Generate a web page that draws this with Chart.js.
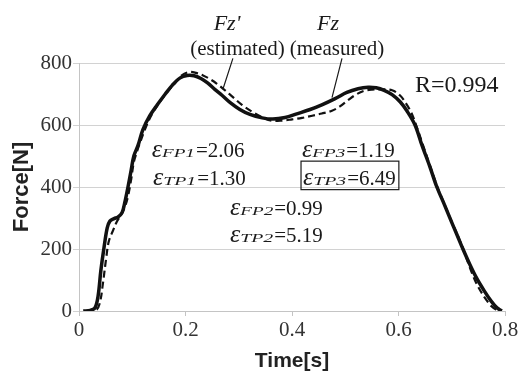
<!DOCTYPE html>
<html>
<head>
<meta charset="utf-8">
<script src="https://cdn.jsdelivr.net/npm/chart.js@4.4.1/dist/chart.umd.min.js"></script>
<style>
    html, body { margin: 0; padding: 0; background: #fff; }
    #wrap { width: 531px; height: 374px; }
</style>
</head>
<body>
<div id="wrap"><canvas id="forceChart" width="531" height="374"></canvas></div>
<script>
// Fz (measured) - solid line
const measuredTime = [0.008, 0.021, 0.030, 0.036, 0.041, 0.047, 0.053, 0.058, 0.066, 0.073,
    0.081, 0.086, 0.092, 0.098, 0.103, 0.111, 0.120, 0.133, 0.147, 0.162,
    0.175, 0.190, 0.203, 0.216, 0.229, 0.242, 0.255, 0.269, 0.284, 0.302,
    0.321, 0.344, 0.364, 0.387, 0.409, 0.434, 0.456, 0.481, 0.503, 0.524,
    0.543, 0.558, 0.573, 0.588, 0.603, 0.616, 0.631, 0.644, 0.659, 0.672,
    0.685, 0.697, 0.710, 0.721, 0.734, 0.747, 0.761, 0.774, 0.785, 0.794];
const measuredForce = [0, 2, 10, 50, 130, 205, 268, 290, 298, 303,
    318, 350, 400, 455, 500, 535, 585, 630, 665, 700,
    728, 752, 760, 759, 750, 735, 715, 695, 672, 650,
    634, 623, 619, 624, 636, 650, 665, 685, 705, 717,
    722, 720, 712, 698, 675, 645, 600, 535, 465, 400,
    348, 298, 245, 200, 150, 105, 65, 32, 10, 0];

// Fz' (estimated) - dashed line
const estimatedTime = [0.013, 0.032, 0.039, 0.045, 0.051, 0.056, 0.064, 0.071, 0.079, 0.086,
    0.092, 0.098, 0.103, 0.109, 0.116, 0.126, 0.137, 0.150, 0.165, 0.180,
    0.193, 0.207, 0.220, 0.233, 0.246, 0.259, 0.274, 0.289, 0.306, 0.325,
    0.344, 0.362, 0.381, 0.400, 0.419, 0.438, 0.456, 0.475, 0.490, 0.505,
    0.520, 0.535, 0.550, 0.569, 0.588, 0.603, 0.614, 0.624, 0.633, 0.646,
    0.659, 0.672, 0.685, 0.697, 0.710, 0.721, 0.734, 0.746, 0.755, 0.764,
    0.774, 0.783, 0.793];
const estimatedForce = [0, 3, 25, 90, 170, 225, 260, 288, 310, 335,
    370, 425, 480, 515, 550, 595, 635, 670, 705, 735,
    760, 771, 768, 760, 748, 733, 712, 690, 665, 643,
    625, 614, 614, 618, 623, 630, 637, 646, 660, 680,
    698, 710, 714, 715, 712, 695, 670, 640, 600, 535,
    470, 405, 350, 300, 248, 203, 140, 90, 62, 38,
    16, 5, 1];

const xTicks = [0, 0.2, 0.4, 0.6, 0.8];
const yTicks = [0, 200, 400, 600, 800];

// error values written in the plot
const errNames  = ['FP1', 'TP1', 'FP3', 'TP3', 'FP2', 'TP2'];
const errValues = ['2.06', '1.30', '1.19', '6.49', '0.99', '5.19'];
const errBoxed  = [false, false, false, true, false, false];
const corrText  = 'R=0.994';

// where the texts sit, in data units (time, force)
const errPos = [[0.1365, 498], [0.139, 406], [0.4188, 498], [0.4207, 406], [0.2836, 310], [0.2836, 223]];

const SERIF = '"Liberation Serif", "Times New Roman", serif';

function drawEps(ctx, x, y, sub, val, boxed) {
    ctx.textAlign = 'left';
    ctx.textBaseline = 'alphabetic';
    ctx.font = 'italic 26px ' + SERIF;
    ctx.fillText('\u03b5', x, y);
    let cx = x + ctx.measureText('\u03b5').width;
    ctx.font = 'italic 13px ' + SERIF;
    const w = ctx.measureText(sub).width;
    const subW = 33;
    ctx.save();
    ctx.translate(cx, y);
    ctx.scale(subW / w, 1);
    ctx.fillText(sub, 0, 0);
    ctx.restore();
    cx += subW + 1;
    ctx.font = '21px ' + SERIF;
    ctx.fillText('=' + val, cx, y);
    cx += ctx.measureText('=' + val).width;
    if (boxed) {
        ctx.lineWidth = 1.2;
        ctx.strokeRect(x - 2, y - 24, cx - x + 5, 28.5);
    }
}

const notesPlugin = {
    id: 'notes',
    afterDatasetsDraw(chart) {
        const ctx = chart.ctx;
        const xs = chart.scales.x, ys = chart.scales.y;
        const px = v => xs.getPixelForValue(v);
        const py = v => ys.getPixelForValue(v);
        ctx.save();
        ctx.fillStyle = '#1a1a1a';
        ctx.strokeStyle = '#1a1a1a';

        // curve names with leader lines
        ctx.textAlign = 'center';
        ctx.textBaseline = 'middle';
        ctx.font = 'italic 22px ' + SERIF;
        ctx.fillText("Fz'", px(0.278), py(926));
        ctx.fillText('Fz', px(0.4676), py(926));
        ctx.font = '21px ' + SERIF;
        ctx.fillText('(estimated)', px(0.2977), py(842));
        ctx.fillText('(measured)', px(0.4845), py(842));

        ctx.lineWidth = 1.2;
        ctx.beginPath();
        ctx.moveTo(px(0.289), py(815));
        ctx.lineTo(px(0.2704), py(716));
        ctx.moveTo(px(0.4939), py(815));
        ctx.lineTo(px(0.4751), py(688));
        ctx.stroke();

        // correlation
        ctx.textAlign = 'left';
        ctx.textBaseline = 'alphabetic';
        ctx.font = '24px ' + SERIF;
        ctx.fillText(corrText, px(0.631), py(707));

        errNames.forEach((n, i) => {
            drawEps(ctx, px(errPos[i][0]), py(errPos[i][1]), n, errValues[i], errBoxed[i]);
        });
        ctx.restore();
    }
};

const canvas = document.getElementById('forceChart');

new Chart(canvas, {
    type: 'line',
    data: {
        datasets: [
            {
                label: 'Fz (measured)',
                data: measuredTime.map((t, i) => ({ x: t, y: measuredForce[i] })),
                borderColor: '#111',
                borderWidth: 3.5,
                pointRadius: 0,
                tension: 0.35,
                fill: false,
            },
            {
                label: "Fz' (estimated)",
                data: estimatedTime.map((t, i) => ({ x: t, y: estimatedForce[i] })),
                borderColor: '#111',
                borderWidth: 2.2,
                borderDash: [7, 4],
                pointRadius: 0,
                tension: 0.35,
                fill: false,
            }
        ]
    },
    options: {
        responsive: false,
        animation: false,
        layout: { padding: { top: 63, right: 26, left: 0, bottom: 0 } },
        plugins: {
            legend: { display: false },
            tooltip: { enabled: false }
        },
        scales: {
            x: {
                type: 'linear',
                min: 0,
                max: 0.8,
                afterBuildTicks: s => { s.ticks = xTicks.map(v => ({ value: v })); },
                afterFit: s => { s.height = 63; },
                grid: { drawOnChartArea: false, drawTicks: true, tickLength: 5, color: '#c4c4c4' },
                border: { color: '#c4c4c4' },
                ticks: {
                    color: '#333',
                    padding: 2,
                    maxRotation: 0,
                    font: { family: SERIF, size: 21 },
                    callback: v => String(Number(v.toFixed(1)))
                },
                title: {
                    display: true,
                    text: 'Time[s]',
                    color: '#222',
                    padding: { top: 0, bottom: 0 },
                    font: { family: '"Liberation Sans", Arial, sans-serif', size: 21, weight: 'bold' }
                }
            },
            y: {
                min: 0,
                max: 800,
                afterBuildTicks: s => { s.ticks = yTicks.map(v => ({ value: v })); },
                afterFit: s => { s.width = 79; },
                grid: { color: '#d2d2d2', tickLength: 6 },
                border: { color: '#c4c4c4' },
                ticks: {
                    color: '#333',
                    padding: 1,
                    font: { family: SERIF, size: 21 }
                },
                title: {
                    display: true,
                    text: 'Force[N]',
                    color: '#222',
                    padding: { top: 9, bottom: 0 },
                    font: { family: '"Liberation Sans", Arial, sans-serif', size: 22, weight: 'bold' }
                }
            }
        }
    },
    plugins: [notesPlugin]
});
</script>
</body>
</html>
